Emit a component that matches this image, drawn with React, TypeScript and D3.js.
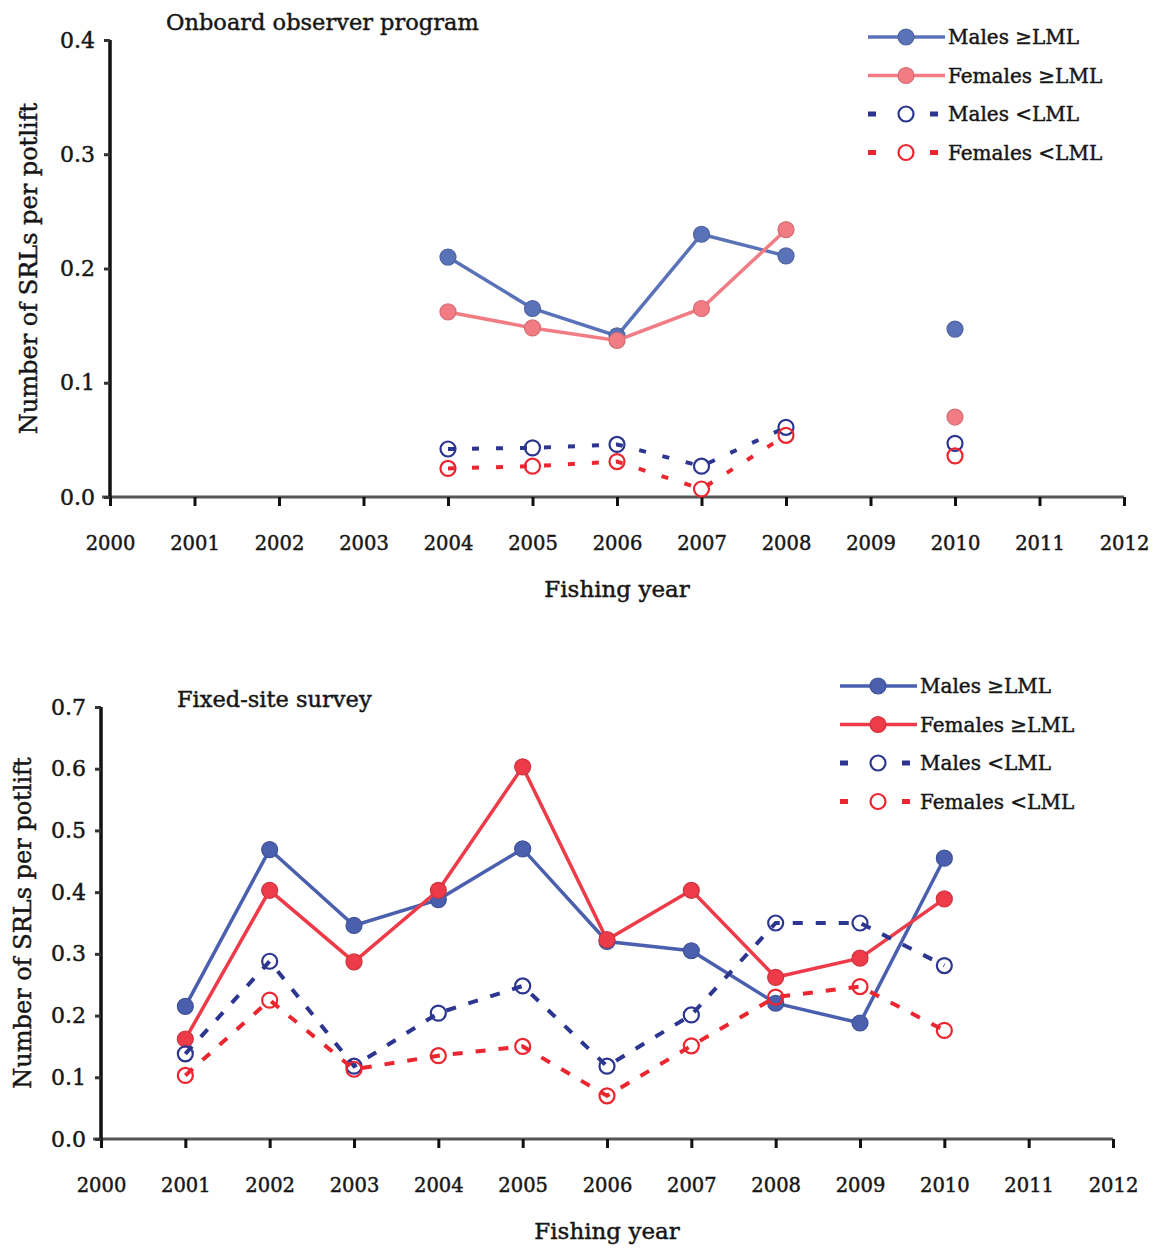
import { useEffect, useRef } from 'react';
import * as d3 from 'd3';

// Onboard observer program (no data for 2009)
const obsYears = [2004, 2005, 2006, 2007, 2008, 2009, 2010];
const obsMalesLegal = [0.21, 0.165, 0.141, 0.23, 0.211, null, 0.147];
const obsFemalesLegal = [0.162, 0.148, 0.137, 0.165, 0.234, null, 0.07];
const obsMalesSub = [0.042, 0.043, 0.046, 0.027, 0.061, null, 0.047];
const obsFemalesSub = [0.025, 0.027, 0.031, 0.007, 0.054, null, 0.036];

// Fixed-site survey
const surveyYears = [2001, 2002, 2003, 2004, 2005, 2006, 2007, 2008, 2009, 2010];
const surveyMalesLegal = [0.215, 0.469, 0.346, 0.388, 0.47, 0.32, 0.305, 0.22, 0.188, 0.455];
const surveyFemalesLegal = [0.162, 0.403, 0.287, 0.403, 0.603, 0.323, 0.403, 0.262, 0.293, 0.389];
const surveyMalesSub = [0.138, 0.288, 0.118, 0.204, 0.248, 0.118, 0.201, 0.35, 0.35, 0.281];
const surveyFemalesSub = [0.103, 0.225, 0.113, 0.135, 0.15, 0.07, 0.151, 0.23, 0.247, 0.176];

const xTicks = d3.range(2000, 2013);
const obsYTicks = [0, 0.1, 0.2, 0.3, 0.4];
const surveyYTicks = [0, 0.1, 0.2, 0.3, 0.4, 0.5, 0.6, 0.7];

const seriesLabels = ['Males \u2265LML', 'Females \u2265LML', 'Males <LML', 'Females <LML'];

const FONT = '"DejaVu Serif", "Liberation Serif", serif';
const INK = '#161616';

type Panel = {
  title: string;
  years: number[];
  series: (number | null)[][];
  yMax: number;
  yTicks: number[];
  left: number;
  right: number;
  top: number;
  bottom: number;
  titleX: number;
  titleY: number;
  legendX: number;
  legendY: number;
  yLabelX: number;
  colors: string[];
  dash: string;
};

// a touch of outline so the text looks as heavy as the scanned print
function ink(sel: d3.Selection<any, any, any, any>, size: number) {
  sel
    .attr('font-family', FONT)
    .attr('font-size', size)
    .attr('fill', INK)
    .attr('stroke', INK)
    .attr('stroke-width', 0.45);
}

function drawPanel(svg: d3.Selection<SVGSVGElement, unknown, null, undefined>, p: Panel) {
  const x = d3.scaleLinear().domain([2000, 2012]).range([p.left, p.right]);
  const y = d3.scaleLinear().domain([0, p.yMax]).range([p.bottom, p.top]);
  const g = svg.append('g');

  // x axis
  const xAxis = g
    .append('g')
    .attr('transform', `translate(0,${p.bottom})`)
    .call(d3.axisBottom(x).tickValues(xTicks).tickFormat(d3.format('d')).tickSize(9).tickPadding(30));
  xAxis.select('.domain').attr('stroke', '#555').attr('stroke-width', 3).attr('d', `M${p.left - 8},0H${p.right}`);
  xAxis.selectAll('.tick line').attr('stroke', '#111').attr('stroke-width', 3);
  ink(xAxis.selectAll('.tick text'), 19.5);

  // y axis
  const yAxis = g
    .append('g')
    .attr('transform', `translate(${p.left},0)`)
    .call(d3.axisLeft(y).tickValues(p.yTicks).tickFormat(d3.format('.1f')).tickSize(6).tickPadding(9));
  yAxis.select('.domain').attr('stroke', '#111').attr('stroke-width', 3.5).attr('d', `M0,${p.top}V${p.bottom}`);
  yAxis.selectAll('.tick line').attr('stroke', '#333').attr('stroke-width', 3);
  ink(yAxis.selectAll('.tick text'), 22);

  ink(
    g
      .append('text')
      .attr('x', (p.left + p.right) / 2)
      .attr('y', p.bottom + 100)
      .attr('text-anchor', 'middle')
      .text('Fishing year'),
    23,
  );

  ink(
    g
      .append('text')
      .attr('transform', `translate(${p.yLabelX},${(p.top + p.bottom) / 2}) rotate(-90)`)
      .attr('text-anchor', 'middle')
      .text('Number of SRLs per potlift'),
    24,
  );

  ink(g.append('text').attr('x', p.titleX).attr('y', p.titleY).text(p.title), 22.5);

  const line = d3
    .line<number | null>()
    .defined((d) => d !== null)
    .x((_, i) => x(p.years[i]))
    .y((d) => y(d as number));

  p.series.forEach((vals, si) => {
    const solid = si < 2;
    const color = p.colors[si];
    g.append('path')
      .attr('d', line(vals))
      .attr('fill', 'none')
      .attr('stroke', color)
      .attr('stroke-width', solid ? 3.5 : 4)
      .attr('stroke-dasharray', solid ? null : p.dash);
    g.append('g')
      .selectAll('circle')
      .data(vals.map((v, i) => ({ v, yr: p.years[i] })).filter((d) => d.v !== null))
      .join('circle')
      .attr('cx', (d) => x(d.yr))
      .attr('cy', (d) => y(d.v as number))
      .attr('r', solid ? 8 : 7.5)
      .attr('fill', solid ? color : 'none')
      .attr('stroke', solid ? d3.color(color)!.darker(0.4).toString() : color)
      .attr('stroke-width', solid ? 1.2 : 2.2);
  });

  // legend
  const lg = g.append('g').attr('transform', `translate(${p.legendX},${p.legendY})`);
  seriesLabels.forEach((label, si) => {
    const solid = si < 2;
    const color = p.colors[si];
    const row = lg.append('g').attr('transform', `translate(0,${si * 38.5})`);
    row
      .append('line')
      .attr('x1', 0)
      .attr('x2', 77)
      .attr('stroke', color)
      .attr('stroke-width', solid ? 3.5 : 5)
      .attr('stroke-dasharray', solid ? null : '8,54,8');
    row
      .append('circle')
      .attr('cx', 38)
      .attr('r', solid ? 8 : 7.5)
      .attr('fill', solid ? color : 'white')
      .attr('stroke', solid ? d3.color(color)!.darker(0.4).toString() : color)
      .attr('stroke-width', solid ? 1.2 : 2.2);
    ink(row.append('text').attr('x', 80).attr('y', 7).text(label), 20);
  });
}

export default function App() {
  const svgRef = useRef<SVGSVGElement>(null);

  useEffect(() => {
    const svg = d3.select(svgRef.current!);
    svg.selectAll('*').remove();

    drawPanel(svg, {
      title: 'Onboard observer program',
      years: obsYears,
      series: [obsMalesLegal, obsFemalesLegal, obsMalesSub, obsFemalesSub],
      yMax: 0.4,
      yTicks: obsYTicks,
      left: 110,
      right: 1124,
      top: 40,
      bottom: 497,
      titleX: 166,
      titleY: 30,
      legendX: 868,
      legendY: 37,
      yLabelX: 37,
      colors: ['#5a72b8', '#f27c83', '#2c3590', '#ec2630'],
      dash: '7,17',
    });

    drawPanel(svg, {
      title: 'Fixed-site survey',
      years: surveyYears,
      series: [surveyMalesLegal, surveyFemalesLegal, surveyMalesSub, surveyFemalesSub],
      yMax: 0.7,
      yTicks: surveyYTicks,
      left: 101,
      right: 1113,
      top: 707,
      bottom: 1139,
      titleX: 177,
      titleY: 707,
      legendX: 840,
      legendY: 686,
      yLabelX: 31,
      colors: ['#4a5fae', '#ee3b49', '#2c3590', '#ec2630'],
      dash: '10,13',
    });
  }, []);

  return (
    <svg
      ref={svgRef}
      width={1154}
      height={1249}
      style={{ position: 'absolute', left: 0, top: 0, background: 'white' }}
    />
  );
}
